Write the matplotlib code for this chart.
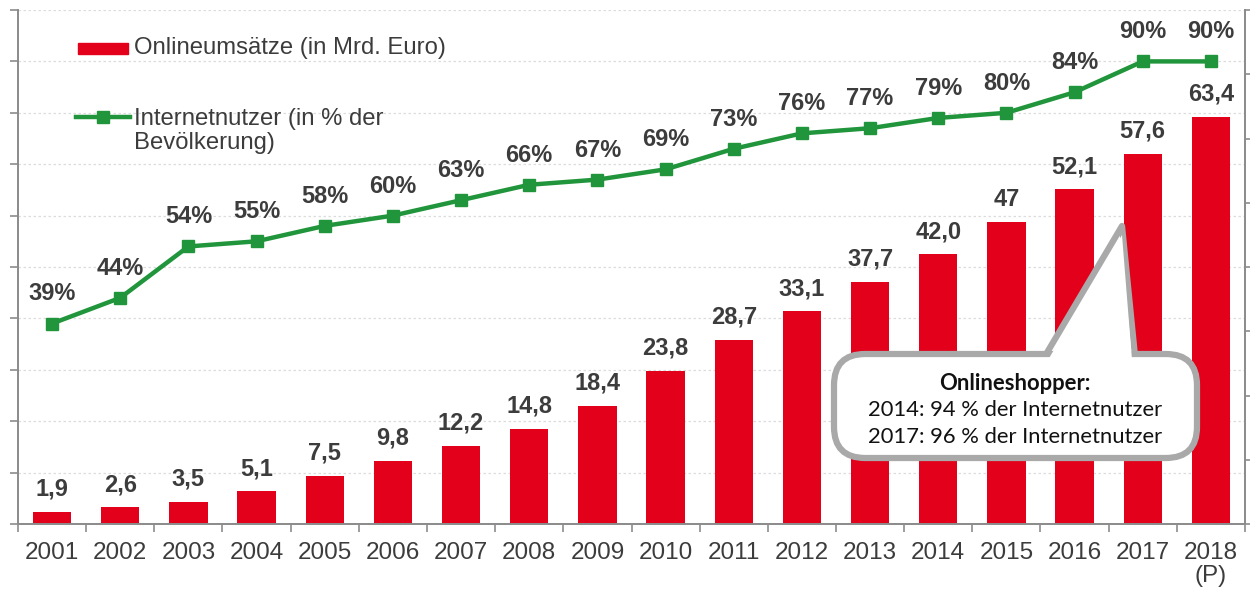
import numpy as np
import matplotlib
matplotlib.use("Agg")
import matplotlib.pyplot as plt
from matplotlib.patches import Rectangle, FancyBboxPatch, Polygon
from matplotlib.lines import Line2D

years = ["2001", "2002", "2003", "2004", "2005", "2006", "2007", "2008", "2009",
         "2010", "2011", "2012", "2013", "2014", "2015", "2016", "2017", "2018\n(P)"]
umsatz = [1.9, 2.6, 3.5, 5.1, 7.5, 9.8, 12.2, 14.8, 18.4, 23.8, 28.7, 33.1,
          37.7, 42.0, 47.0, 52.1, 57.6, 63.4]
umsatz_labels = ["1,9", "2,6", "3,5", "5,1", "7,5", "9,8", "12,2", "14,8", "18,4",
                 "23,8", "28,7", "33,1", "37,7", "42,0", "47", "52,1", "57,6", "63,4"]
nutzer = [39, 44, 54, 55, 58, 60, 63, 66, 67, 69, 73, 76, 77, 79, 80, 84, 90, 90]
nutzer_labels = [f"{v}%" for v in nutzer]

RED = "#e2001a"
GREEN = "#21953b"
GREY = "#8c8c8c"
TXT = "#3c3c3c"

plt.rcParams["font.family"] = ["Liberation Sans", "DejaVu Sans"]

W, H = 1250, 593
fig = plt.figure(figsize=(W / 100, H / 100), dpi=100)
ax = fig.add_axes([18 / W, 1 - 524 / H, (1245 - 18) / W, (524 - 10) / H])
ax2 = ax.twinx()

x = np.arange(len(years))
ax.bar(x, umsatz, width=0.56, color=RED, zorder=2)
for xi, v, lab in zip(x, umsatz, umsatz_labels):
    ax.annotate(lab, (xi, v), xytext=(0, 8), textcoords="offset points",
                ha="center", va="bottom", fontsize=17, fontweight="bold", color=TXT)

ax2.plot(x, nutzer, color=GREEN, lw=3.2, marker="s", ms=8.5, zorder=3)
for xi, v, lab in zip(x, nutzer, nutzer_labels):
    ax2.annotate(lab, (xi, v), xytext=(0, 13), textcoords="offset points",
                 ha="center", va="bottom", fontsize=17, fontweight="bold", color=TXT)

ax.set_xlim(-0.5, len(years) - 0.5)
ax.set_ylim(0, 80)
ax2.set_ylim(0, 100)
ax.set_yticks(np.arange(0, 81, 8))
ax2.set_yticks(np.arange(0, 101, 12.5))
ax.tick_params(axis="y", labelleft=False, length=6, color=GREY, width=1.2)
ax2.tick_params(axis="y", labelright=False, length=6, color=GREY, width=1.2)
ax.yaxis.grid(True, color="#dcdcdc", ls=(0, (2, 2)), lw=0.9)
ax.set_axisbelow(True)

ax.set_xticks(x)
ax.set_xticklabels(years, fontsize=17.5, color=TXT, linespacing=1.08)
ax.set_xticks(np.arange(-0.5, len(years), 1), minor=True)
ax.tick_params(axis="x", which="major", length=0, pad=13)
ax.tick_params(axis="x", which="minor", length=6, color=GREY, width=1.2)

for a in (ax, ax2):
    a.spines["top"].set_visible(False)
    for s in ("left", "right", "bottom"):
        a.spines[s].set_color(GREY)
        a.spines[s].set_linewidth(1.3)

# legend (manual, top left)
def fx(px):
    return px / W

def fy(py):
    return 1 - py / H

fig.patches.append(Rectangle((fx(78), fy(54)), fx(50), 11 / H, color=RED,
                             transform=fig.transFigure, figure=fig))
fig.text(fx(134), fy(48), "Onlineumsätze (in Mrd. Euro)", fontsize=17.2, color=TXT, va="center")
fig.lines.append(Line2D([fx(76), fx(130)], [fy(117), fy(117)], color=GREEN, lw=3.2,
                        transform=fig.transFigure, figure=fig))
fig.lines.append(Line2D([fx(103)], [fy(117)], color=GREEN, marker="s", ms=8.5,
                        transform=fig.transFigure, figure=fig))
fig.text(fx(134), fy(131), "Internetnutzer (in % der\nBevölkerung)", fontsize=17.2,
         color=TXT, va="center", linespacing=1.1)

# callout
tail = Polygon([(fx(1045), fy(356)), (fx(1122), fy(226)), (fx(1135), fy(356))],
               closed=True, facecolor="white", edgecolor="#a9a9a9", lw=4.5,
               transform=fig.transFigure, joinstyle="round", zorder=5)
fig.patches.append(tail)
box = FancyBboxPatch((fx(834), fy(458)), fx(1197 - 834), (458 - 354) / H,
                     boxstyle="round,pad=0,rounding_size=0.025",
                     facecolor="white", edgecolor="#a9a9a9", lw=4.5,
                     transform=fig.transFigure, zorder=6, mutation_aspect=W / H)
fig.patches.append(box)
cover = Polygon([(fx(1048), fy(360)), (fx(1122), fy(235)), (fx(1132), fy(360))],
                closed=True, facecolor="white", edgecolor="none",
                transform=fig.transFigure, zorder=7)
fig.patches.append(cover)
fig.text(fx(1015), fy(383), "Onlineshopper:", fontsize=15.8, fontweight="bold",
         family=["Lato", "DejaVu Sans"], color="#111111", ha="center", va="center", zorder=8)
fig.text(fx(1015), fy(410), "2014: 94 % der Internetnutzer", fontsize=15.8,
         family=["Lato", "DejaVu Sans"], color="#111111", ha="center", va="center", zorder=8)
fig.text(fx(1015), fy(437), "2017: 96 % der Internetnutzer", fontsize=15.8,
         family=["Lato", "DejaVu Sans"], color="#111111", ha="center", va="center", zorder=8)

fig.savefig("out.png", dpi=100)
